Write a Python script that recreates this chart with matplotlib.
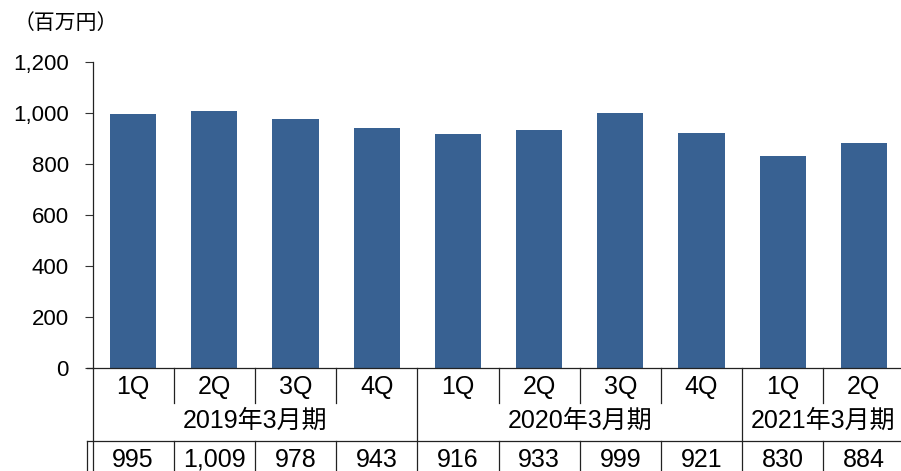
import matplotlib
matplotlib.use("Agg")
import matplotlib.pyplot as plt
from matplotlib.lines import Line2D
import matplotlib.transforms as mtransforms

quarters = ["1Q", "2Q", "3Q", "4Q", "1Q", "2Q", "3Q", "4Q", "1Q", "2Q"]
years = ["2019年3月期", "2020年3月期", "2021年3月期"]
year_counts = [4, 4, 2]
values = [995, 1009, 978, 943, 916, 933, 999, 921, 830, 884]
yticks = [0, 200, 400, 600, 800, 1000, 1200]
unit_label = "（百万円）"

plt.rcParams['font.family'] = ['Liberation Sans', 'Noto Sans CJK JP', 'DejaVu Sans']

W, H = 901, 471
fig = plt.figure(figsize=(W / 100, H / 100), dpi=100)

ax_left_px, ax_right_px = 92.5, 904.5
ax_top_px, ax_bot_px = 62, 368
ax = fig.add_axes([ax_left_px / W, 1 - ax_bot_px / H,
                   (ax_right_px - ax_left_px) / W, (ax_bot_px - ax_top_px) / H])

x = list(range(len(values)))
ax.bar(x, values, width=0.57, color='#386192', zorder=2)
ax.set_xlim(-0.5, len(values) - 0.5)
ax.set_ylim(0, 1200)
ax.set_yticks(yticks)
ax.set_yticklabels([f"{v:,}" for v in yticks], fontsize=16)
ax.tick_params(axis='y', direction='out', length=6, width=0.8, pad=11, color='#333333')
ax.set_xticks([])
for s in ['top', 'right']:
    ax.spines[s].set_visible(False)
for s in ['left', 'bottom']:
    ax.spines[s].set_linewidth(0.9)
    ax.spines[s].set_color('#222222')

def ypx(p):
    return 1 - p / H

trans = mtransforms.blended_transform_factory(ax.transData, fig.transFigure)
lc = '#222222'
lw = 0.9

def vline(xd, y0, y1):
    fig.add_artist(Line2D([xd, xd], [ypx(y0), ypx(y1)], transform=trans,
                          color=lc, lw=lw, clip_on=False))

fig.add_artist(Line2D([ax_left_px / W, ax_left_px / W], [ypx(ax_bot_px), ypx(H)],
                      transform=fig.transFigure, color=lc, lw=lw))
fig.add_artist(Line2D([86.7 / W, 86.7 / W], [ypx(441), ypx(H)],
                      transform=fig.transFigure, color=lc, lw=lw))
fig.add_artist(Line2D([86.7 / W, 1.0], [ypx(441), ypx(441)],
                      transform=fig.transFigure, color=lc, lw=lw))
fig.add_artist(Line2D([86.7 / W, ax_left_px / W], [ypx(ax_bot_px), ypx(ax_bot_px)],
                      transform=fig.transFigure, color=lc, lw=lw))

boundaries = []
acc = 0
for c in year_counts[:-1]:
    acc += c
    boundaries.append(acc - 0.5)
for i in range(len(values) - 1):
    b = i + 0.5
    if b in boundaries:
        vline(b, ax_bot_px, H)
    else:
        vline(b, ax_bot_px, 403)
        vline(b, 441, H)

fs_tab = 18
for i, (q, v) in enumerate(zip(quarters, values)):
    fig.text(i, ypx(394), q, transform=trans, ha='center', va='baseline', fontsize=fs_tab)
    fig.text(i, ypx(466.7), f"{v:,}", transform=trans, ha='center', va='baseline', fontsize=fs_tab)

start = 0
for yl, c in zip(years, year_counts):
    center = start + (c - 1) / 2
    fig.text(center, ypx(428), yl, transform=trans, ha='center', va='baseline', fontsize=fs_tab)
    start += c

fig.text(14 / W, ypx(23), unit_label, ha='left', va='center', fontsize=15)

fig.savefig("out.png", dpi=100)
